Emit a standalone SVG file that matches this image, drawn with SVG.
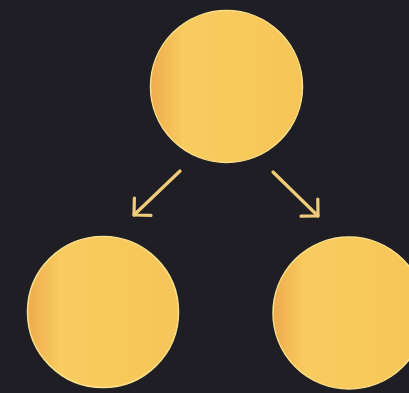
<svg xmlns="http://www.w3.org/2000/svg" width="409" height="393" viewBox="0 0 409 393">
<defs>
<linearGradient id="g" x1="0" y1="0" x2="1" y2="0">
<stop offset="0" stop-color="#eeab4e"/>
<stop offset="0.1" stop-color="#f3ba55"/>
<stop offset="0.22" stop-color="#f9cc60"/>
<stop offset="0.6" stop-color="#f8c95b"/>
<stop offset="1" stop-color="#f6c458"/>
</linearGradient>
<marker id="ah" viewBox="-15 -15 30 30" refX="0" refY="0" markerWidth="30" markerHeight="30" orient="auto" markerUnits="userSpaceOnUse">
<path d="M-12,-12 L0,0 L-12,12" fill="none" stroke="#efcd78" stroke-width="3.2" stroke-linecap="round" stroke-linejoin="round"/>
</marker>
<style>
.node{fill:url(#g);stroke:#fbe08a;stroke-width:1.5}
.edge{stroke:#efcd78;stroke-width:3.2;fill:none;stroke-linecap:round;marker-end:url(#ah)}
</style>
</defs>
<rect width="409" height="393" fill="#1f1e25"/>
<g id="n-top"><circle class="node" cx="226.5" cy="86.5" r="76"/></g>
<g id="n-left"><circle class="node" cx="103" cy="312" r="75.5"/></g>
<g id="n-right"><circle class="node" cx="349" cy="313" r="76"/></g>
<g id="edges">
<line class="edge" x1="180" y1="171" x2="134" y2="215"/>
<line class="edge" x1="273" y1="172" x2="318" y2="216"/>
</g>
</svg>
